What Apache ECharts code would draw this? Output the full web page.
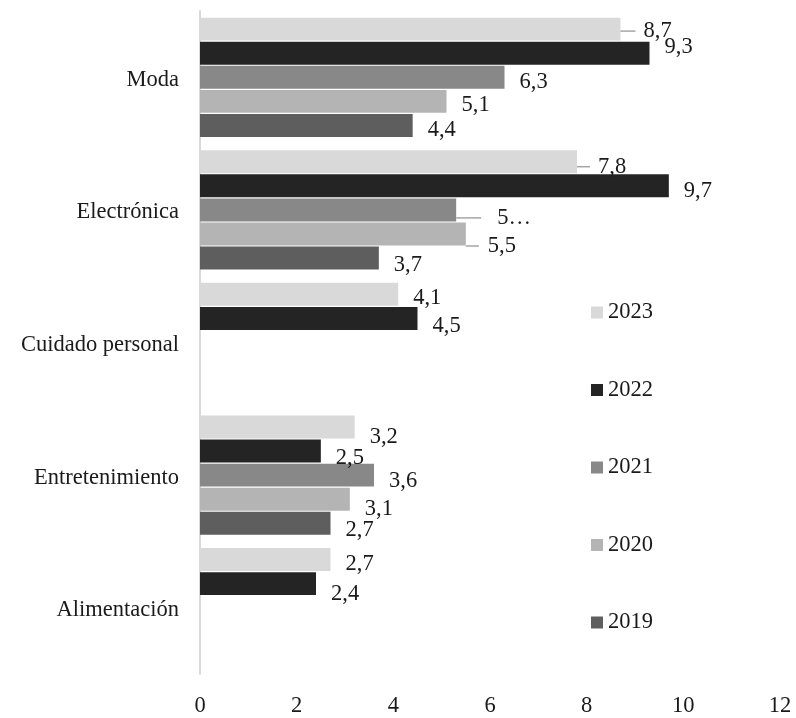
<!DOCTYPE html>
<html>
<head>
<meta charset="utf-8">
<script src="https://cdn.jsdelivr.net/npm/echarts@6/dist/echarts.min.js"></script>
<style>html,body{margin:0;padding:0;background:#fff;}#c{width:796px;height:718px;}</style>
</head>
<body>
<div id="c"></div>
<script>
const categories = ['Moda', 'Electrónica', 'Cuidado personal', 'Entretenimiento', 'Alimentación'];
const years = ['2023', '2022', '2021', '2020', '2019'];
const v2023 = [8.7, 7.8, 4.1, 3.2, 2.7];
const v2022 = [9.3, 9.7, 4.5, 2.5, 2.4];
const v2021 = [6.3, 5.3, null, 3.6, null];
const v2020 = [5.1, 5.5, null, 3.1, null];
const v2019 = [4.4, 3.7, null, 2.7, null];
const xTicks = [0, 2, 4, 6, 8, 10, 12];
// label text shown truncated in the original
const labelText = { '2021|1': '5…' };

const seriesValues = [v2023, v2022, v2021, v2020, v2019];
const colors = ['#d9d9d9', '#242424', '#888888', '#b4b4b4', '#5e5e5e'];
const FONT = "'Liberation Serif', 'Times New Roman', serif";
const TXT = '#1a1a1a';
const FS = 22.5;

// label placement (style only): vertical shift per series/category
const labelDy = [
  [2, 5, 4, 10, 5],
  [-6, 5, 8, 7, 10],
  [5, 8, 0, 6, 0],
  [4, 12, 0, 10, 0],
  [5, 7, 0, 7, 0]
];
// leader lines: [line length, gap]
const leader = {
  '2023|0': [15, 8],
  '2023|1': [13, 8],
  '2021|1': [25, 16],
  '2020|1': [13, 9]
};

const series = years.map((y, si) => ({
  name: y,
  type: 'bar',
  barGap: '5%',
  barCategoryGap: '10%',
  itemStyle: { color: colors[si] },
  label: {
    show: true,
    position: 'right',
    distance: 15,
    fontFamily: FONT,
    fontSize: FS,
    color: TXT,
    formatter: p => {
      const k = y + '|' + p.dataIndex;
      const txt = labelText[k] || String(p.value).replace('.', ',');
      if (leader[k]) return '{ln' + p.dataIndex + '|}{gp' + p.dataIndex + '|}' + txt;
      return txt;
    }
  },
  data: seriesValues[si].map((v, ci) => {
    if (v === null) return null;
    const k = y + '|' + ci;
    const item = { value: v, label: { offset: [0, labelDy[si][ci]] } };
    if (leader[k]) {
      item.label.distance = 0;
      const rich = {};
      rich['ln' + ci] = { width: leader[k][0], height: 1.5, backgroundColor: '#a6a6a6' };
      rich['gp' + ci] = { width: leader[k][1], height: 1 };
      item.label.rich = rich;
    }
    return item;
  })
}));

const chart = echarts.init(document.getElementById('c'), null, { renderer: 'canvas' });
chart.setOption({
  animation: false,
  backgroundColor: '#fff',
  textStyle: { fontFamily: FONT },
  grid: { left: 200, right: 16, top: 11, bottom: 37, containLabel: false },
  legend: {
    orient: 'vertical',
    left: 586,
    top: 296,
    icon: 'rect',
    itemWidth: 12,
    itemHeight: 12,
    itemGap: 54.5,
    itemStyle: { borderWidth: 0 },
    textStyle: { fontFamily: FONT, fontSize: FS, lineHeight: 22, color: TXT },
    data: years
  },
  xAxis: {
    type: 'value',
    min: xTicks[0],
    max: xTicks[xTicks.length - 1],
    interval: xTicks[1] - xTicks[0],
    axisLine: { show: false },
    axisTick: { show: false },
    splitLine: { show: false },
    axisLabel: { fontFamily: FONT, fontSize: FS, color: TXT, margin: 21 }
  },
  yAxis: {
    type: 'category',
    inverse: true,
    data: categories,
    axisLine: { show: true, lineStyle: { color: '#d9d9d9', width: 2 } },
    axisTick: { show: false },
    axisLabel: { fontFamily: FONT, fontSize: FS, color: TXT, margin: 21, verticalAlign: 'top', lineHeight: 5 }
  },
  series: series
});
</script>
</body>
</html>
